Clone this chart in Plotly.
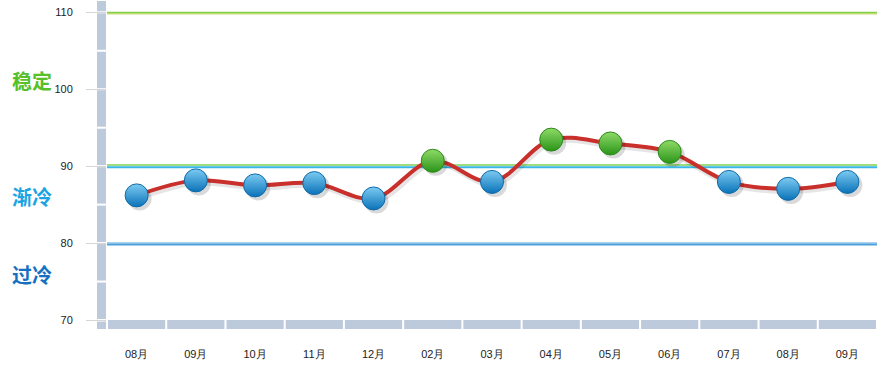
import plotly.graph_objects as go

months = ["08月", "09月", "10月", "11月", "12月", "02月", "03月", "04月", "05月", "06月", "07月", "08月", "09月"]
values = [86.2, 88.15, 87.5, 87.8, 85.8, 90.7, 87.95, 93.45, 92.95, 91.85, 87.95, 87.05, 87.95]
y_ticks = [70, 80, 90, 100, 110]
zones = ["稳定", "渐冷", "过冷"]
zone_pos = [101.1, 86.1, 75.9]
zone_colors = ["#58c02a", "#1ea3e2", "#1670c2"]
threshold = 90

xs = list(range(len(months)))
ball_light = ["#8fdb68" if v >= threshold else "#7ccbf2" for v in values]
ball_dark = ["#2a9418" if v >= threshold else "#0a72b8" for v in values]
ball_edge = ["#2c8a1c" if v >= threshold else "#0f6aa8" for v in values]

fig = go.Figure()

# line shadow
fig.add_trace(go.Scatter(x=[x + 0.03 for x in xs], y=[v - 0.35 for v in values], mode="lines",
                         line=dict(color="rgba(0,0,0,0.10)", width=5, shape="spline", smoothing=1),
                         hoverinfo="skip", showlegend=False))
fig.add_trace(go.Scatter(x=xs, y=values, mode="lines",
                         line=dict(color="#c9302c", width=4, shape="spline", smoothing=1),
                         hoverinfo="skip", showlegend=False))
# ball shadow
fig.add_trace(go.Scatter(x=[x + 0.05 for x in xs], y=[v - 0.4 for v in values], mode="markers",
                         marker=dict(size=24, color="rgba(0,0,0,0.15)", line=dict(width=0)),
                         hoverinfo="skip", showlegend=False))
# balls
fig.add_trace(go.Scatter(x=xs, y=values, mode="markers",
                         marker=dict(size=23, color=ball_light,
                                     gradient=dict(type="vertical", color=ball_dark),
                                     line=dict(width=1, color=ball_edge)),
                         showlegend=False))

shapes = []
band = "#bccadb"
# horizontal reference lines
ref_lines = [(110, -1.5, "#c9e27a", 1.5), (110, -0.3, "#86cf4c", 1.5),
             (90, 1.2, "#9ddc80", 2), (90, -1.2, "#37b6e8", 2),
             (80, -1.2, "#4f9fda", 2.2), (80, 0.5, "#a9d3f0", 1.2)]
for yv, off, col, w in ref_lines:
    shapes.append(dict(type="line", xref="paper", x0=0, x1=1, yref="y", ysizemode="pixel",
                       yanchor=yv, y0=off, y1=off, line=dict(color=col, width=w), layer="below"))
# left band segments
for v in range(70, 111, 5):
    top = min(v + 5, 111.6)
    shapes.append(dict(type="rect", xref="paper", xsizemode="pixel", xanchor=0, x0=-10, x1=-1,
                       yref="y", y0=v + 0.13, y1=top - 0.13, fillcolor=band, line=dict(width=0),
                       layer="above"))
# corner
shapes.append(dict(type="rect", xref="paper", xsizemode="pixel", xanchor=0, x0=-10, x1=-1,
                   yref="paper", ysizemode="pixel", yanchor=0, y0=-1.5, y1=-9,
                   fillcolor=band, line=dict(width=0), layer="above"))
# bottom band segments
for i in xs:
    shapes.append(dict(type="rect", xref="x", x0=i - 0.5 + 0.017, x1=i + 0.5 - 0.017,
                       yref="paper", ysizemode="pixel", yanchor=0, y0=0, y1=-9,
                       fillcolor=band, line=dict(width=0), layer="above"))

annotations = []
for t, yv, c in zip(zones, zone_pos, zone_colors):
    annotations.append(dict(text=t, xref="paper", x=-0.1255, xanchor="left", yref="y", y=yv,
                            yanchor="middle", showarrow=False,
                            font=dict(family="Noto Sans CJK SC", size=20, color=c, weight="bold")))

fig.update_layout(
    width=891, height=375,
    margin=dict(l=107, r=14, t=0, b=55),
    paper_bgcolor="white", plot_bgcolor="white",
    shapes=shapes, annotations=annotations,
    xaxis=dict(range=[-0.5, 12.5], tickvals=xs, ticktext=months, showgrid=False, zeroline=False,
               showline=False, ticks="outside", ticklen=24, tickcolor="rgba(0,0,0,0)",
               tickfont=dict(family="Liberation Sans", size=11, color="#222")),
    yaxis=dict(range=[70, 111.6], tickvals=y_ticks, showgrid=False, zeroline=False, showline=False,
               ticks="outside", ticklen=20, tickcolor="#d6d6d6", tickwidth=1, ticklabelstandoff=11,
               tickfont=dict(family="Liberation Sans", size=11, color="#222")),
)

fig.write_html("out.html", config={"displayModeBar": False},
               post_script="document.body.style.margin='0';document.body.style.overflow='hidden';")
